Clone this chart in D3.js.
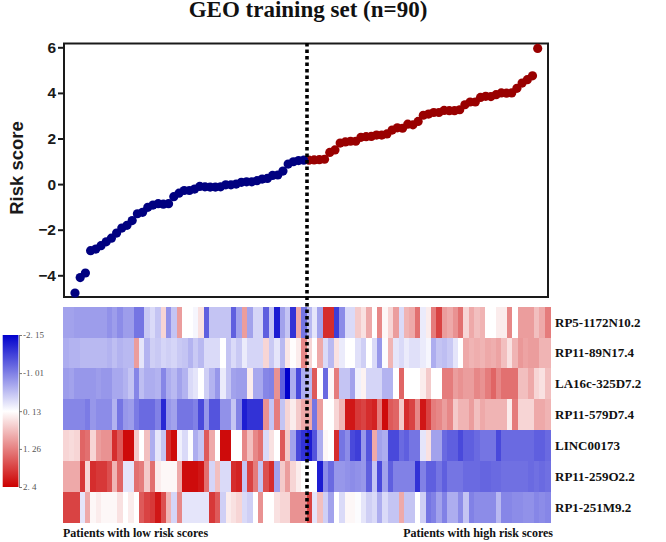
<!DOCTYPE html>
<html><head><meta charset="utf-8">
<script src="https://cdn.jsdelivr.net/npm/d3@7"></script>
<style>html,body{margin:0;padding:0;background:#fff}svg{display:block}</style>
</head><body><svg id="c" width="666" height="542"></svg>
<script>
const title = "GEO training set (n=90)";
const lowScores = [-4.78,-4.1,-3.9,-2.92,-2.85,-2.7,-2.53,-2.37,-2.15,-1.93,-1.81,-1.6,-1.3,-1.24,-1.02,-0.92,-0.86,-0.88,-0.86,-0.55,-0.4,-0.28,-0.28,-0.22,-0.1,-0.12,-0.13,-0.13,-0.12,-0.03,-0.03,0,0.08,0.1,0.1,0.15,0.22,0.25,0.38,0.4,0.57,0.88,0.98,1.03,1.05];
const highScores = [1.05,1.06,1.07,1.09,1.39,1.5,1.8,1.85,1.88,1.88,2.05,2.08,2.09,2.15,2.15,2.2,2.37,2.47,2.45,2.63,2.6,2.75,3.02,3.07,3.14,3.14,3.23,3.22,3.22,3.26,3.48,3.6,3.6,3.8,3.85,3.84,3.92,4.0,3.99,4.0,4.2,4.43,4.58,4.75,5.95];
const yTicks = [-4,-2,0,2,4,6];
const genes = ["RP5-1172N10.2","RP11-89N17.4","LA16c-325D7.2","RP11-579D7.4","LINC00173","RP11-259O2.2","RP1-251M9.2"];
const row1 = [-0.7,-0.7,-0.75,-0.75,-0.75,-0.75,-0.75,-0.75,-0.85,-0.75,-0.9,-0.75,-0.75,-1.1,-1.1,-0.35,-0.2,-0.4,0.5,-0.85,-0.4,1.0,0.13,0.13,0.05,0.4,-1.3,-0.4,-0.4,-0.4,-0.4,-1.3,-0.7,1.0,-0.7,-0.25,-0.25,-1.3,-0.4,-1.9,-0.7,-0.4,-1.7,0.9,-1.1,-0.5,-0.1,-0.7,2.0,2.0,-1.6,-0.9,-0.2,-0.2,0.6,0.4,0.9,0.13,1.2,0.2,0.5,1.0,-0.2,0.8,0.9,1.4,-0.05,0.3,1.3,1.8,1.0,0.9,1.1,1.4,0.5,0.9,0.7,0.8,0.13,0.13,0.3,0.3,1.2,0.13,1.0,1.0,1.0,0.7,0.9,1.3];
const row2 = [-0.6,-0.55,-0.55,-0.5,-0.5,-0.5,-0.5,-0.5,-0.55,-0.45,-0.55,-0.5,-0.5,1.0,-0.1,-0.55,-0.3,-0.35,-0.25,-0.3,-0.25,-0.35,-0.4,-0.55,-0.35,-0.5,-0.2,-0.2,-0.2,0.13,-0.4,-0.2,-0.35,-0.05,-0.25,-0.25,-0.25,0.5,-0.35,-0.1,-0.5,0.35,0.15,0.3,1.2,0.5,0.13,0.9,-0.2,-0.5,0.4,-0.05,0.13,0.13,-0.15,-0.3,0.13,-0.2,-0.8,0.1,0.8,-0.1,-0.2,-0.05,-0.15,-0.15,-0.05,0.05,-0.6,-0.4,-0.45,-0.35,-0.1,0.13,0.9,0.8,0.85,0.8,0.9,0.85,0.95,0.7,0.4,0.8,1.05,0.95,1.0,1.0,0.8,0.8];
const row3 = [-0.75,-0.7,-0.8,-0.8,-0.8,-0.8,-0.75,-0.8,-0.8,-0.65,-0.65,-0.55,-0.4,-0.95,-0.45,-0.6,-0.6,-0.55,-0.95,-0.6,-0.5,-0.7,-0.55,-0.2,-0.1,0.13,-0.3,-0.55,-0.8,-0.05,-0.4,-0.7,-0.75,-0.75,0.3,-0.65,-0.65,-0.95,-1.0,1.1,-1.3,-2.15,-0.6,-1.5,-0.6,-0.5,1.6,0.13,-1.2,0.2,1.3,-0.4,-0.4,-0.7,0,0.25,-0.25,-0.25,-0.25,-0.55,-0.55,0.13,1.5,0.13,0.13,0.13,0.3,0.6,0.13,0.13,1.3,1.3,1.0,1.1,1.0,1.0,1.2,1.1,1.3,1.5,1.2,1.4,1.4,1.4,0.7,0.7,0.9,0.5,0.4,0.7];
const row4 = [-0.95,-0.95,-0.95,-0.95,-1.05,-0.8,-0.9,-0.9,-0.9,-0.55,-1.1,-0.8,-0.75,-1.05,-1.2,-1.2,-1.2,-1.0,-1.8,-0.8,-0.7,-1.1,-1.1,-1.1,-1.0,-1.5,-0.8,-1.4,-1.4,-0.85,-0.85,-0.4,-1.0,-1.9,-1.7,-1.7,-1.7,1.1,-0.4,1.3,-0.4,0.5,0.3,0.6,0.9,0.9,-1.1,1.0,0.13,0.13,0.5,0.8,2.2,2.2,1.9,1.8,2.0,2.1,1.3,2.3,1.6,1.5,0.6,2.0,1.8,1.2,2.2,1.8,1.3,1.2,1.0,1.2,0.6,0.8,0.8,1.0,0.7,0.9,0.8,0.8,0.8,0.8,0.3,1.3,0.5,0.5,0.5,0.9,0.9,0.8];
const row5 = [0.5,0.45,0.5,1.5,1.4,0.5,1.0,1.1,1.1,2.0,1.6,2.3,2.3,0.6,0.13,0.7,-0.6,-0.1,-0.4,2.0,2.3,0,-0.2,0.1,-0.6,-0.4,1.6,0.9,0.13,2.3,2.3,0.13,0.13,1.2,0.7,1.2,1.4,-0.2,0.4,0.13,1.6,0.6,-0.7,-1.5,-1.7,-1.9,-1.4,-0.6,0.2,0.13,2.0,-1.1,-0.9,-1.5,-1.6,-0.8,-1.4,0.9,-0.7,-0.6,-1.5,-1.5,-1.2,-1.3,-1.1,-1.1,-0.1,0.4,-0.7,-0.7,-1.2,-1.3,-1.3,-1.5,-1.3,-1.3,-1.2,-1.1,-1.1,-1.1,-1.5,-1.2,-1.2,-1.2,-1.2,-1.2,-1.2,-1.3,-1.3,-1.2];
const row6 = [0.9,0.9,0.9,1.9,0.5,2.0,1.9,1.9,1.7,0.8,1.5,-0.1,-0.1,1.4,1.3,0.6,1.4,0.3,0.2,0.2,0.2,0.9,2.3,2.3,2.3,2.2,1.4,-0.25,0.7,-0.2,-0.2,2.0,2.1,-0.4,1.8,1.3,-0.4,1.7,2.0,-0.7,0.6,1.0,0.5,0.3,0.13,0.13,0.13,-1.9,-0.9,-1.2,-0.8,-0.8,-0.85,-0.9,-0.85,-0.8,-1.3,-0.4,-1.5,-0.7,-1.3,-1.0,-1.0,-1.0,-1.0,-1.7,-1.0,-1.3,-1.3,-1.1,-1.3,-1.1,-1.1,-1.1,-1.2,-1.2,-1.2,-1.25,-1.25,-1.2,-1.2,-1.15,-1.15,-1.15,-1.15,-1.15,-1.2,-1.15,-1.2,-1.15];
const row7 = [1.8,1.8,1.8,-0.1,0.9,0.2,0.3,0.2,0.2,0.2,0.4,0.13,0.3,0.13,1.6,1.8,1.9,2.2,1.7,0.8,-0.25,1.2,-0.1,-0.1,-0.1,-0.1,-0.1,1.9,1.6,-0.3,0.3,0.4,0.5,-0.2,-0.3,0.13,1.1,0.13,0.13,0.4,0.5,0.5,1.1,1.1,1.1,1.8,-0.1,0.7,-0.3,-0.7,0.13,-0.2,0.2,0.2,0.1,-0.1,-0.3,-0.2,-0.6,-0.2,-0.4,-0.4,0.9,-0.4,-0.4,0.13,-0.3,-1.1,-1.0,-0.7,-1.0,-0.6,-0.6,-0.9,-0.4,-1.0,-0.9,-0.9,-0.9,-0.9,-0.5,-0.95,-0.95,-0.9,-0.9,-0.85,-0.85,-0.95,-0.9,-0.95];
const heatRows = [row1,row2,row3,row4,row5,row6,row7];
const legendValues = [-2.15,-1.01,0.13,1.26,2.4];
const legendLabels = ["-2. 15","-1. 01","0. 13","1. 26","2. 4"];
const lowCaption = "Patients with low risk scores";
const highCaption = "Patients with high risk scores";

const svg = d3.select("#c");
const serif = "'Liberation Serif','Times New Roman',serif";
const sans = "'Liberation Sans',Arial,sans-serif";

const color = d3.scaleLinear().domain([-2.15,0.13,2.4]).range(["#0000cc","#ffffff","#cc0000"]);
const box = {l:64,r:548,t:43.5,b:297};
const x = d3.scaleLinear().domain([0,89]).range([75,537.7]);
const y = d3.scaleLinear().domain([-4,6]).range([275.3,47.3]);

svg.append("text").attr("x",308).attr("y",17).attr("text-anchor","middle")
  .style("font",`bold 23px ${serif}`).attr("fill","#111").text(title);

// Scatter panel
svg.append("rect").attr("x",box.l).attr("y",box.t).attr("width",box.r-box.l).attr("height",box.b-box.t)
  .attr("fill","none").attr("stroke","#1a1a1a").attr("stroke-width",2);
const yAxis = svg.append("g").attr("transform",`translate(${box.l},0)`)
  .call(d3.axisLeft(y).tickValues(yTicks).tickSize(6).tickPadding(2).tickFormat(d3.format("d")));
yAxis.select(".domain").remove();
yAxis.selectAll("line").attr("stroke","#1a1a1a").attr("stroke-width",2);
yAxis.selectAll("text").attr("fill","#1a1a1a").style("font",`bold 15.5px ${sans}`);
svg.append("text").attr("transform","translate(23,168) rotate(-90)").attr("text-anchor","middle")
  .style("font",`bold 18.5px ${sans}`).attr("fill","#1a1a1a").text("Risk score");

svg.append("g").selectAll("circle").data(highScores).join("circle")
  .attr("cx",(d,i)=>x(i+lowScores.length)).attr("cy",d=>y(d)).attr("r",4.6).attr("fill","#990000");
svg.append("g").selectAll("circle").data(lowScores).join("circle")
  .attr("cx",(d,i)=>x(i)).attr("cy",d=>y(d)).attr("r",4.6).attr("fill","#000080");

// Heat map
const cols = d3.scaleBand().domain(d3.range(row1.length)).range([63.3,550]);
const rows = d3.scaleBand().domain(d3.range(genes.length)).range([306.7,522.7]);
const hg = svg.append("g").attr("shape-rendering","crispEdges");
heatRows.forEach((r,ri)=>{
  hg.append("g").selectAll("rect").data(r).join("rect")
    .attr("x",(d,i)=>cols(i)).attr("y",rows(ri))
    .attr("width",cols.bandwidth()+0.5).attr("height",rows.bandwidth()+0.5)
    .attr("fill",d=>color(d));
});
svg.append("g").selectAll("text").data(genes).join("text")
  .attr("x",555).attr("y",(d,i)=>rows(i)+rows.bandwidth()/2+4.5)
  .style("font",`bold 13px ${serif}`).attr("fill","#111").text(d=>d);

// Divider
svg.append("line").attr("x1",307).attr("x2",307).attr("y1",43).attr("y2",522)
  .attr("stroke","#000").attr("stroke-width",3.6).attr("stroke-dasharray","3.5 3");

svg.append("text").attr("x",63).attr("y",537).style("font",`bold 12px ${serif}`).attr("fill","#111").text(lowCaption);
svg.append("text").attr("x",553).attr("y",537).attr("text-anchor","end").style("font",`bold 12px ${serif}`).attr("fill","#111").text(highCaption);

// Colour legend
const ly = d3.scaleLinear().domain([-2.15,2.4]).range([335,487]);
const defs = svg.append("defs");
const grad = defs.append("linearGradient").attr("id","lg").attr("x1",0).attr("x2",0).attr("y1",0).attr("y2",1);
color.domain().forEach(v=>grad.append("stop").attr("offset",(ly(v)-335)/152).attr("stop-color",color(v)));
svg.append("rect").attr("x",2.7).attr("y",335).attr("width",15.8).attr("height",152).attr("fill","url(#lg)");
const lAxis = svg.append("g").attr("transform","translate(19,0)")
  .call(d3.axisRight(ly).tickValues(legendValues).tickSize(3).tickPadding(1).tickFormat((d,i)=>legendLabels[i]));
lAxis.select(".domain").attr("stroke","#888").attr("stroke-width",1);
lAxis.selectAll("line").attr("stroke","#777");
lAxis.selectAll("text").attr("fill","#555").style("font",`9px ${serif}`);
</script></body></html>
